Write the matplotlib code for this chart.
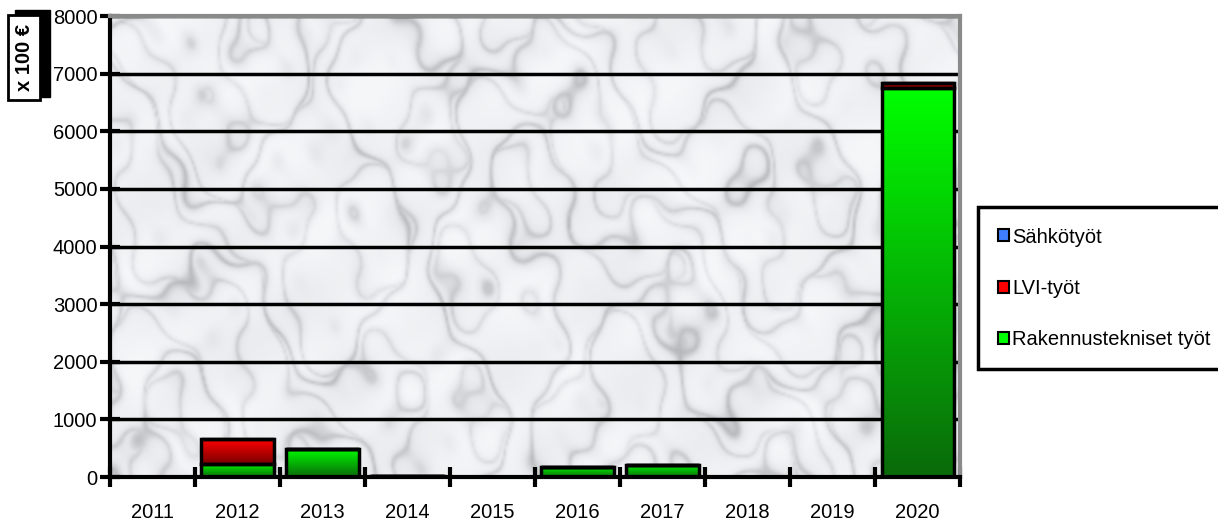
import numpy as np
import matplotlib.pyplot as plt
from matplotlib.patches import Rectangle, Patch
from matplotlib.colors import LinearSegmentedColormap

plt.rcParams['font.family'] = ['Liberation Sans', 'DejaVu Sans']

years = ['2011', '2012', '2013', '2014', '2015', '2016', '2017', '2018', '2019', '2020']
rakennus = [0, 230, 490, 20, 0, 175, 210, 0, 0, 6750]
lvi = [0, 430, 0, 0, 0, 0, 0, 0, 0, 80]
sahko = [0, 0, 0, 0, 0, 0, 0, 0, 0, 0]
series_names = ['Sähkötyöt', 'LVI-työt', 'Rakennustekniset työt']
y_ticks = [0, 1000, 2000, 3000, 4000, 5000, 6000, 7000, 8000]

GREEN = ('#00ff00', '#0a6a0a')
RED = ('#ff0000', '#7a0000')
BLUE = ('#3f7fff', '#1a3a9a')


def marble(ax):
    # soft grey marble-like texture for the plot area (deterministic sines)
    xx, yy = np.meshgrid(np.linspace(0, 8.5, 426), np.linspace(0, 4.6, 231))
    turb = np.zeros_like(xx)
    waves = [(1.3, 0.7, 0.3, 1.0), (2.9, -1.7, 1.1, 0.5), (5.3, 3.1, 2.0, 0.3),
             (-7.7, 6.1, 0.7, 0.18), (11.9, 9.3, 1.7, 0.1)]
    for fx, fy, ph, amp in waves:
        turb += amp * np.sin(fx * xx + fy * yy + ph)
    v = np.abs(np.sin(1.6 * xx - 1.1 * yy + 2.6 * turb))
    v2 = np.abs(np.sin(-2.3 * xx - 1.9 * yy + 3.1 * turb + 1.0))
    vein = np.maximum((1 - v) ** 3, 0.8 * (1 - v2) ** 3)
    cloud = 0.5 + 0.25 * np.sin(3.1 * xx + 2.2 * yy + 1.5 * turb) + 0.25 * np.sin(-4.3 * xx + 5.7 * yy)
    t = np.clip(0.6 * vein + 0.25 * cloud, 0, 1)
    cmap = LinearSegmentedColormap.from_list('m', ['#f6f7f9', '#e4e5e8', '#b4b5b9'])
    ax.imshow(t, cmap=cmap, extent=(-0.5, 9.5, 0, 8000), aspect='auto', zorder=0,
              interpolation='bicubic', origin='lower')


def gradient_bars(ax, bars, colors):
    cmap = LinearSegmentedColormap.from_list('g', [colors[1], colors[0]])
    grad = np.linspace(0, 1, 256).reshape(-1, 1)
    for b in bars:
        h = b.get_height()
        if h <= 0:
            continue
        x0, y0 = b.get_x(), b.get_y()
        im = ax.imshow(grad, cmap=cmap, origin='lower', aspect='auto',
                       extent=(x0, x0 + b.get_width(), y0, y0 + h), zorder=2)
        im.set_clip_path(b)
        b.set_facecolor('none')


fig = plt.figure(figsize=(12.18, 5.25), dpi=100)
ax = fig.add_axes([0.0903, 0.0914, 0.698, 0.878])
marble(ax)

x = np.arange(len(years))
w = 0.85
bottom2 = np.array(rakennus)
bottom3 = bottom2 + np.array(lvi)
b1 = ax.bar(x, rakennus, w, color=GREEN[0], edgecolor='black', linewidth=2.5, zorder=3)
b2 = ax.bar(x, lvi, w, bottom=bottom2, color=RED[0], edgecolor='black', linewidth=2.5, zorder=3)
b3 = ax.bar(x, sahko, w, bottom=bottom3, color=BLUE[0], edgecolor='black', linewidth=2.5, zorder=3)
gradient_bars(ax, b1, GREEN)
gradient_bars(ax, b2, RED)

ax.set_xlim(-0.5, 9.5)
ax.set_ylim(0, 8000)
ax.set_yticks(y_ticks)
ax.set_xticks(x)
ax.set_xticklabels(years)
ax.set_xticks(np.arange(-0.5, 10, 1), minor=True)
ax.yaxis.grid(True, color='black', linewidth=2.5)
for gl in ax.get_ygridlines():
    gl.set_zorder(1)
ax.tick_params(axis='y', direction='inout', length=14, width=3, labelsize=14.5, pad=2)
ax.tick_params(axis='x', which='major', length=0, labelsize=14.5, pad=19)
ax.tick_params(axis='x', which='minor', direction='inout', length=14, width=3)
for s in ['left', 'bottom']:
    ax.spines[s].set_linewidth(3)
    ax.spines[s].set_color('black')
for s in ['top', 'right']:
    ax.spines[s].set_linewidth(3)
    ax.spines[s].set_color('#8a8a8a')

handles = [Patch(facecolor=BLUE[0], edgecolor='black', linewidth=1.5),
           Patch(facecolor=RED[0], edgecolor='black', linewidth=1.5),
           Patch(facecolor=GREEN[0], edgecolor='black', linewidth=1.5)]
leg = fig.legend(handles, series_names, loc='upper left', bbox_to_anchor=(0.803, 0.605),
                 fontsize=14.5, handlelength=0.55, handleheight=0.55, handletextpad=0.15,
                 labelspacing=1.6, borderpad=1.0, borderaxespad=0, fancybox=False,
                 edgecolor='black', framealpha=1)
leg.get_frame().set_linewidth(2.5)

# "x 100 €" unit box with shadow
fig.patches.append(Rectangle((0.0125, 0.815), 0.0285, 0.166, transform=fig.transFigure,
                             facecolor='black', edgecolor='black', zorder=5))
fig.patches.append(Rectangle((0.0066, 0.81), 0.0262, 0.161, transform=fig.transFigure,
                             facecolor='white', edgecolor='black', linewidth=2, zorder=6))
fig.text(0.0199, 0.891, 'x 100 €', rotation=90, ha='center', va='center',
         fontsize=14.5, fontweight='bold', zorder=7)

fig.savefig('out.png', dpi=100)
